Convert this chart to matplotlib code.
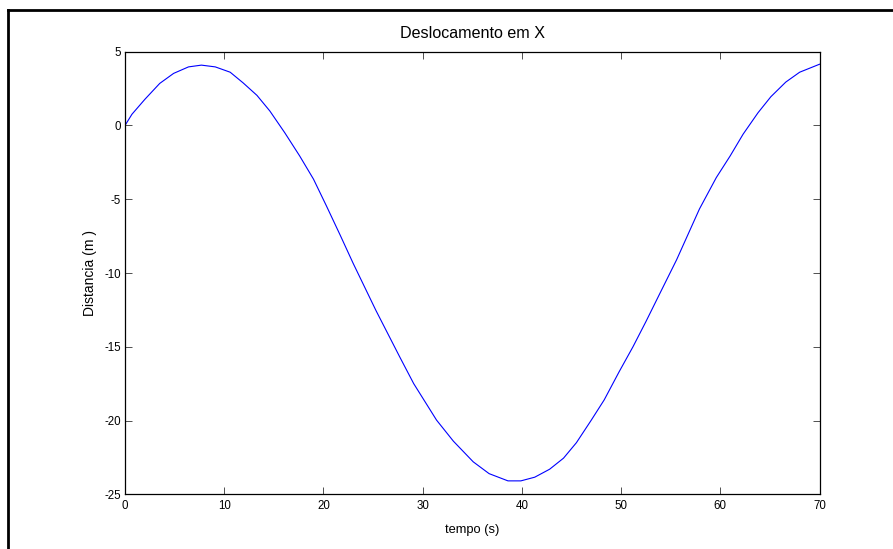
import matplotlib
matplotlib.use("Agg")
import matplotlib.pyplot as plt
from matplotlib.lines import Line2D

# tempo (s) e deslocamento em X (m)
tempo = [0.0, 0.7, 2.0, 3.5, 4.9, 6.4, 7.7, 9.1, 10.6, 11.9, 13.3, 14.6,
         16.1, 17.6, 19.0, 20.3, 21.7, 23.0, 25.3, 27.7, 29.1, 31.4, 33.1,
         35.1, 36.7, 38.6, 39.9, 41.3, 42.8, 44.2, 45.5, 47.0, 48.3, 49.8,
         51.2, 52.5, 53.9, 55.6, 57.9, 59.6, 61.0, 62.3, 63.8, 65.1, 66.6,
         68.0, 70.0]
desloc_x = [0.0, 0.76, 1.77, 2.85, 3.53, 3.97, 4.09, 3.97, 3.61, 2.89, 2.04,
            0.98, -0.49, -2.06, -3.64, -5.45, -7.45, -9.35, -12.55, -15.7,
            -17.5, -19.97, -21.4, -22.8, -23.6, -24.09, -24.09, -23.84,
            -23.3, -22.55, -21.5, -19.97, -18.6, -16.7, -15.0, -13.3, -11.4,
            -9.1, -5.66, -3.53, -2.06, -0.59, 0.86, 1.95, 2.94, 3.61, 4.15]

xticks = [0, 10, 20, 30, 40, 50, 60, 70]
yticks = [5, 0, -5, -10, -15, -20, -25]

plt.rcParams["font.family"] = ["Liberation Sans", "DejaVu Sans"]
plt.rcParams["axes.unicode_minus"] = False

W, H = 893, 549
fig = plt.figure(figsize=(W / 100, H / 100), dpi=100)

# moldura da figura
fig.add_artist(Line2D([8 / W, 1.0], [1 - 10 / H, 1 - 10 / H], color="black", lw=2))
fig.add_artist(Line2D([8 / W, 8 / W], [1 - 10 / H, 0.0], color="black", lw=2))

left, right, top, bottom = 125, 819.5, 51.7, 494.3
ax = fig.add_axes([left / W, 1 - bottom / H, (right - left) / W, (bottom - top) / H])

ax.plot(tempo, desloc_x, color="#0000ff", lw=0.8)

ax.set_xlim(0, 70)
ax.set_ylim(-25, 5)
ax.set_xticks(xticks)
ax.set_yticks(yticks)
ax.tick_params(direction="in", length=5, width=0.6, top=True, right=True,
               labelsize=8.3, color="#333333")
ax.tick_params(axis="x", pad=4)
ax.tick_params(axis="y", pad=3)
for sp in ax.spines.values():
    sp.set_linewidth(0.9)

ax.set_xlabel("tempo (s)", fontsize=9.3)
ax.set_ylabel("Distancia (m )", fontsize=10)
ax.xaxis.set_label_coords(0.5, (bottom - 524) / (bottom - top))
ax.yaxis.set_label_coords((97 - left) / (right - left), 0.5)
ax.text(0.5, 1 + (top - 34) / (bottom - top), "Deslocamento em X",
        transform=ax.transAxes, ha="center", va="center", fontsize=11.6)

fig.savefig("out.png", dpi=100)
